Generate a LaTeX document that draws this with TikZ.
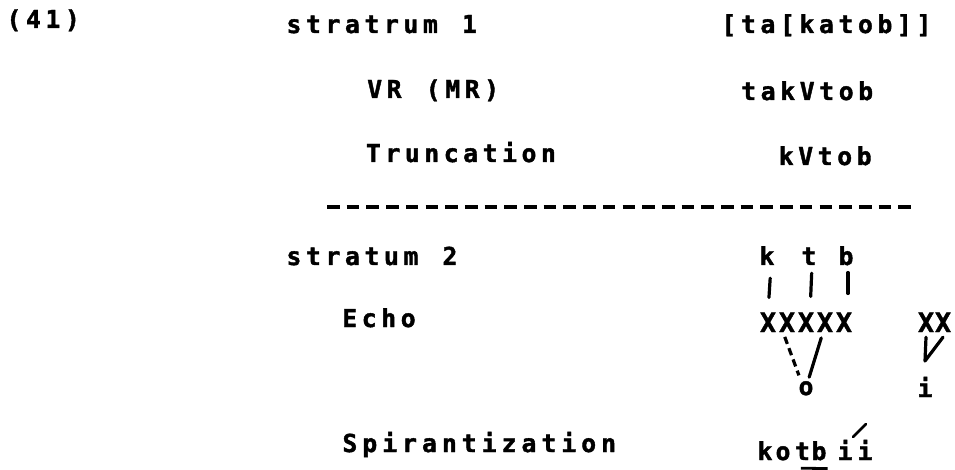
\documentclass[tikz,border=0pt]{standalone}
\usepackage{fontspec}
\newfontfamily\twfont{DejaVu Sans Mono}[BoldFeatures={FakeBold=1.6}]
\newcommand\spaced[2][19.5pt]{\def\spadv{#1}\spacedi#2\relax}
\def\spacedi#1{\ifx#1\relax\else\makebox[\spadv][c]{#1}\expandafter\spacedi\fi}
\tikzset{
  txt/.style={inner sep=0pt, anchor=base west, font=\twfont\bfseries\fontsize{24.7}{30}\selectfont},
  ch/.style={inner sep=0pt, anchor=base, font=\twfont\bfseries\fontsize{24.7}{30}\selectfont},
  bigx/.style={ch, font=\twfont\bfseries\fontsize{26.5}{30}\selectfont},
  assoc/.style={line width=3.2pt, line cap=round, line join=round},
  dashassoc/.style={line width=3.2pt, dash pattern=on 7.5pt off 4.5pt},
  tierline/.style={line width=3.2pt, dash pattern=on 12.6pt off 7.1pt}
}
\begin{document}
\begin{tikzpicture}[x=1pt,y=-1pt]
\useasboundingbox (0,0) rectangle (955,470);
% left column
\node[txt] (n41) at (4,28) {\spaced{(41)}};
\node[txt] (s1) at (284,33) {\spaced{stratrum~1}};
\node[txt] (vr) at (364.75,98) {\spaced{VR~(MR)}};
\node[txt] (trunc) at (363.5,162) {\spaced[19.45pt]{Truncation}};
\node[txt] (s2) at (284,265) {\spaced{stratum~2}};
\node[txt] (echo) at (339.75,327) {\spaced{Echo}};
\node[txt] (spir) at (339.75,452) {\spaced[19.9pt]{Spirantization}};
% right column
\node[txt] (f1) at (719,33) {\spaced{[ta[katob]]}};
\node[txt] (f2) at (738.75,100) {\spaced{takVtob}};
\node[txt] (f3) at (776.25,165) {\spaced{kVtob}};
% stratum boundary
\coordinate (dl) at (327,207);
\coordinate (dr) at (915,207);
\draw[tierline] (dl) -- (dr);
% melody
\node[ch] (k) at (767,265) {k};
\node[ch] (t) at (809,265) {t};
\node[ch] (b) at (846,265) {b};
% skeleton
\node[bigx] (x1) at (768,332) {X};
\node[bigx] (x2) at (787,332) {X};
\node[bigx] (x3) at (806,332) {X};
\node[bigx] (x4) at (825,332) {X};
\node[bigx] (x5) at (844,332) {X};
\node[bigx] (xa) at (926,332) {X};
\node[bigx] (xb) at (943,332) {X};
% vowels
\node[ch] (o) at (806,395) {o};
\node[ch] (i) at (925,397) {i};
% association lines
\draw[assoc, shorten <=13pt, shorten >=15pt] ([xshift=4pt]k.south) -- (x1.north);
\draw[assoc, shorten <=8pt, shorten >=16pt] ([xshift=3pt]t.south) -- ([xshift=4pt]x3.north);
\draw[assoc, shorten <=7pt, shorten >=19pt] ([xshift=2pt]b.south) -- ([xshift=4pt]x5.north);
\draw[dashassoc, shorten <=5pt, shorten >=6pt] ([xshift=-4pt]x2.south) -- ([xshift=-5pt]o.north);
\draw[assoc, shorten <=6pt, shorten >=4pt] ([xshift=-2pt]x4.south) -- ([xshift=2pt]o.north);
\coordinate (vtip) at (925,361);
\draw[assoc] ([yshift=-5pt]xa.south) -- (vtip) -- ([yshift=-5pt]xb.south);
% output form
\node[ch] (ok) at (765,460) {k};
\node[ch] (oo) at (783,460) {o};
\node[ch] (ot) at (802.5,460) {t};
\node[ch] (ob) at (819,460) {b};
\node[ch] (oi1) at (845,460) {i};
\node[ch] (oi2) at (865,460) {i};
\draw[line width=2.8pt] ([xshift=6pt,yshift=-8pt]ot.south west) -- ([xshift=1pt,yshift=-8pt]ob.south east);
\coordinate (acc1) at (853,437);
\coordinate (acc2) at (866,424);
\draw[assoc, line width=2.6pt] (acc1) -- (acc2);
\end{tikzpicture}
\end{document}
